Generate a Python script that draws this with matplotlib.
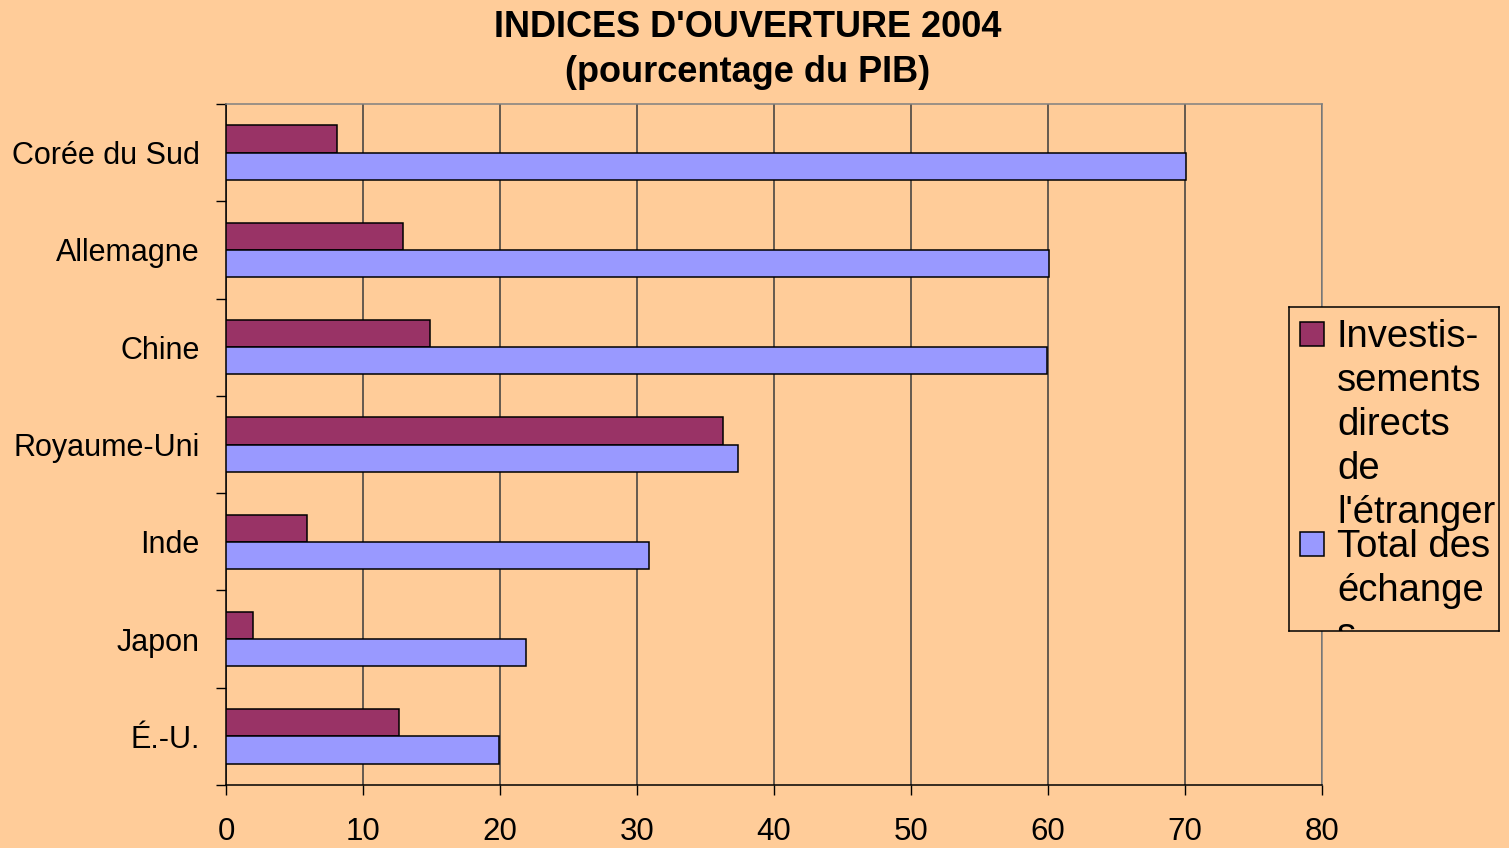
import matplotlib.pyplot as plt
import numpy as np
from matplotlib.patches import Rectangle

plt.rcParams['font.family'] = ['Liberation Sans', 'DejaVu Sans']

# === DONNÉES ===
pays = ["É.-U.", "Japon", "Inde", "Royaume-Uni", "Chine", "Allemagne", "Corée du Sud"]
investissements = [12.6, 2.0, 5.9, 36.3, 14.9, 12.9, 8.1]
total_echanges = [19.9, 21.9, 30.9, 37.4, 59.9, 60.1, 70.1]
ticks_x = [0, 10, 20, 30, 40, 50, 60, 70, 80]

fond = '#FFCC99'
col_inv = '#993366'
col_tot = '#9999FF'

fig = plt.figure(figsize=(15.09, 8.48), dpi=100, facecolor=fond)
ax = fig.add_axes([226 / 1509, 63 / 848, 1096 / 1509, 681 / 848], facecolor=fond)

pos = np.arange(len(pays))
h = 0.28
ax.barh(pos + h / 2, investissements, height=h, color=col_inv, edgecolor='black', linewidth=1.1, zorder=3)
ax.barh(pos - h / 2, total_echanges, height=h, color=col_tot, edgecolor='black', linewidth=1.1, zorder=3)

ax.set_xlim(0, 80)
ax.set_ylim(-0.5, len(pays) - 0.5)
ax.set_xticks(ticks_x)
ax.set_xticklabels([str(t) for t in ticks_x], fontsize=22.5)
ax.tick_params(axis='x', length=7, width=1, pad=16, direction='out')
ax.xaxis.grid(True, color='#3a3a3a', linewidth=1.1, zorder=1)

ax.set_yticks(pos)
ax.set_yticklabels(pays, fontsize=22)
ax.set_yticks(np.arange(-0.5, len(pays), 1.0), minor=True)
ax.tick_params(axis='y', which='major', length=0, pad=19)
ax.tick_params(axis='y', which='minor', length=7, width=1, direction='out')

ax.spines['left'].set_color('black')
ax.spines['bottom'].set_color('black')
ax.spines['top'].set_color('#808080')
ax.spines['right'].set_color('#808080')
for s in ax.spines.values():
    s.set_linewidth(1.1)

fig.text(748 / 1509, 1 - 50 / 848, "INDICES D'OUVERTURE 2004\n(pourcentage du PIB)",
         ha='center', va='center', fontsize=26, fontweight='bold', linespacing=1.4)

# === LÉGENDE (texte coupé comme dans l'original) ===
lx, ly, lw, lh = 1289, 307, 210, 324
lg = fig.add_axes([lx / 1509, 1 - (ly + lh) / 848, lw / 1509, lh / 848], facecolor=fond)
lg.set_xlim(0, lw)
lg.set_ylim(lh, 0)
lg.set_xticks([])
lg.set_yticks([])
for s in lg.spines.values():
    s.set_color('black')
    s.set_linewidth(1.1)

entrees = [
    (col_inv, 15, 40, ["Investis-", "sements", "directs", "de", "l'étranger"]),
    (col_tot, 225, 250, ["Total des", "échange", "s"]),
]
for couleur, y_carre, y_base, lignes in entrees:
    lg.add_patch(Rectangle((11, y_carre), 24, 24, facecolor=couleur, edgecolor='black', linewidth=1.1))
    for i, ligne in enumerate(lignes):
        lg.text(48, y_base + i * 44, ligne, fontsize=27.5, va='baseline', ha='left', clip_on=True)

fig.savefig('out.png', dpi=100, facecolor=fond)
